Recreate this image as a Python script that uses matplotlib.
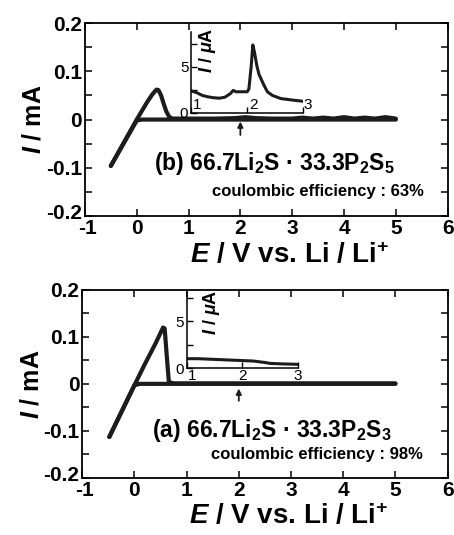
import matplotlib
matplotlib.use("Agg")
import matplotlib.pyplot as plt
from matplotlib.ticker import MultipleLocator
from matplotlib.transforms import ScaledTranslation

plt.rcParams['font.family'] = ['Liberation Sans', 'DejaVu Sans']
plt.rcParams['font.weight'] = 'bold'
plt.rcParams['axes.labelweight'] = 'bold'
plt.rcParams['axes.unicode_minus'] = False
plt.rcParams['mathtext.fontset'] = 'custom'
plt.rcParams['mathtext.rm'] = 'Liberation Sans:bold'
plt.rcParams['mathtext.it'] = 'Liberation Sans:bold:italic'
plt.rcParams['mathtext.bf'] = 'Liberation Sans:bold'

INK = '#1c1c1c'

# (b) 66.7Li2S-33.3P2S5 : cathodic sweep then anodic sweep
b_cath_E = [5.0, 2.0, 0.1, 0.0, -0.5]
b_cath_I = [0.0, 0.0, 0.0, -0.002, -0.096]
b_anod_E = [-0.5, -0.25, 0.0, 0.1, 0.2, 0.3, 0.38, 0.42, 0.47, 0.52, 0.57, 0.63, 0.7,
            1.0, 1.5, 1.9, 2.1, 2.3, 2.6, 3.0, 3.2, 3.4, 3.6, 3.8, 4.0, 4.2, 4.4, 4.6, 4.8, 5.0]
b_anod_I = [-0.096, -0.048, 0.0, 0.018, 0.036, 0.052, 0.062, 0.061, 0.05, 0.033, 0.017, 0.005, 0.002,
            0.002, 0.002, 0.003, 0.005, 0.003, 0.002, 0.002, 0.004, 0.002, 0.004, 0.002, 0.005, 0.002, 0.004, 0.002, 0.005, 0.002]

# (a) 66.7Li2S-33.3P2S3
a_cath_E = [5.0, 2.0, 0.1, 0.0, -0.48]
a_cath_I = [0.0, 0.0, 0.0, -0.003, -0.113]
a_anod_E = [-0.48, 0.0, 0.2, 0.4, 0.55, 0.58, 0.62, 0.66, 0.75, 1.0, 2.0, 3.0, 4.0, 5.0]
a_anod_I = [-0.113, -0.003, 0.042, 0.085, 0.12, 0.118, 0.06, 0.004, 0.001, 0.001, 0.001, 0.001, 0.001, 0.001]

# insets (uA)
b_ins_E = [1.0, 1.1, 1.2, 1.3, 1.4, 1.5, 1.6, 1.7, 1.75, 1.8, 1.9, 2.0, 2.03, 2.07, 2.1, 2.13,
           2.17, 2.21, 2.3, 2.36, 2.45, 2.6, 2.8, 2.95, 3.0]
b_ins_I = [2.4, 2.2, 1.9, 1.75, 1.65, 1.6, 1.7, 2.1, 2.45, 2.3, 2.3, 2.3, 2.6, 5.0, 7.4, 6.6,
           5.2, 4.2, 3.0, 2.3, 1.9, 1.56, 1.4, 1.3, 1.25]
a_ins_E = [1.0, 1.2, 1.4, 1.6, 1.8, 2.0, 2.2, 2.4, 2.5, 2.7, 3.0]
a_ins_I = [1.0, 1.0, 0.95, 0.9, 0.85, 0.8, 0.75, 0.6, 0.5, 0.45, 0.4]

x_ticks = [-1, 0, 1, 2, 3, 4, 5, 6]
y_ticks = [-0.2, -0.1, 0, 0.1, 0.2]
y_tick_labels = ['-0.2', '-0.1', '0', '0.1', '0.2']

fig = plt.figure(figsize=(4.54, 5.35), dpi=100)


def main_panel(rect, cath_E, cath_I, anod_E, anod_I, label, eff, arrow_y):
    ax = fig.add_axes(rect)
    ax.plot(cath_E, cath_I, color=INK, lw=3.0, solid_capstyle='round')
    ax.plot(anod_E, anod_I, color=INK, lw=3.0, solid_capstyle='round', solid_joinstyle='round')
    ax.set_xlim(-1, 6)
    ax.set_ylim(-0.2, 0.2)
    ax.set_xticks(x_ticks)
    ax.set_yticks(y_ticks)
    ax.set_yticklabels(y_tick_labels)
    ax.yaxis.set_minor_locator(MultipleLocator(0.05))
    ax.tick_params(which='both', direction='in', top=True, right=True, length=5, width=1.1,
                   labelsize=15, pad=2)
    for s in ax.spines.values():
        s.set_linewidth(1.3)
    # nudge the two corner labels apart a little
    ylab0 = ax.get_yticklabels()[0]
    ylab0.set_transform(ylab0.get_transform() + ScaledTranslation(0, 3 / 72, fig.dpi_scale_trans))
    xlab0 = ax.get_xticklabels()[0]
    xlab0.set_transform(xlab0.get_transform() + ScaledTranslation(2 / 72, 0, fig.dpi_scale_trans))
    ax.set_xlabel(r'$E$ / V vs. Li / Li$^{+}$', fontsize=20)
    ax.xaxis.set_label_coords(0.565, -0.135)
    ax.set_ylabel(r'$I$ / mA', fontsize=18, labelpad=0)
    ax.annotate('', xy=(2.0, arrow_y[1]), xytext=(2.0, arrow_y[0]),
                arrowprops=dict(arrowstyle='-|>', color=INK, lw=1.3, mutation_scale=8,
                                shrinkA=0, shrinkB=0))
    ax.text(0.34, label[1], label[0], fontsize=16.5, ha='left', va='center')
    ax.text(1.46, eff[1], eff[0], fontsize=12, ha='left', va='center')
    return ax


def inset(rect, E, I, ytop, ylab_pos, lab_above):
    ax = fig.add_axes(rect)
    ax.patch.set_alpha(0)
    ax.plot(E, I, color=INK, lw=2.2)
    ax.set_xlim(1, 3)
    ax.set_ylim(0, ytop)
    for s in ['top', 'right']:
        ax.spines[s].set_visible(False)
    for s in ['left', 'bottom']:
        ax.spines[s].set_linewidth(1.1)
    ax.set_xticks([1, 2, 3])
    ax.set_xticklabels([])
    ax.set_yticks([0, 2.5, 5, 7.5])
    ax.set_yticklabels(['0', '', '5', ''])
    ax.tick_params(direction='in', length=4, width=1, labelsize=11, pad=2)
    for t in ax.get_yticklabels():
        t.set_fontweight('normal')
    if lab_above:
        for xv, tx in [(1.1, '1'), (2.12, '2'), (3.08, '3')]:
            ax.text(xv, 0.1, tx, fontsize=11, fontweight='normal', ha='center', va='bottom')
    else:
        for xv, tx in [(1.1, '1'), (2.0, '2'), (3.0, '3')]:
            ax.text(xv, -0.1, tx, fontsize=11, fontweight='normal', ha='center', va='top')
    ax.text(ylab_pos[0], ylab_pos[1], r'$I$ / $\mu$A', transform=ax.transAxes, rotation=90,
            fontsize=13, ha='center', va='center')
    return ax


main_panel([0.187, 0.596, 0.799, 0.361], b_cath_E, b_cath_I, b_anod_E, b_anod_I,
           ('(b) 66.7Li$_2$S \u00b7 33.3P$_2$S$_5$', -0.092),
           ('coulombic efficiency : 63%', -0.148), (-0.032, -0.004))
main_panel([0.181, 0.107, 0.805, 0.351], a_cath_E, a_cath_I, a_anod_E, a_anod_I,
           ('(a) 66.7Li$_2$S \u00b7 33.3P$_2$S$_3$', -0.1),
           ('coulombic efficiency : 98%', -0.151), (-0.036, -0.01))

inset([0.421, 0.789, 0.247, 0.151], b_ins_E, b_ins_I, 8.8, (0.15, 0.78), True)
inset([0.412, 0.312, 0.244, 0.142], a_ins_E, a_ins_I, 8.1, (0.22, 0.74), False)

fig.savefig('out.png', dpi=100)
